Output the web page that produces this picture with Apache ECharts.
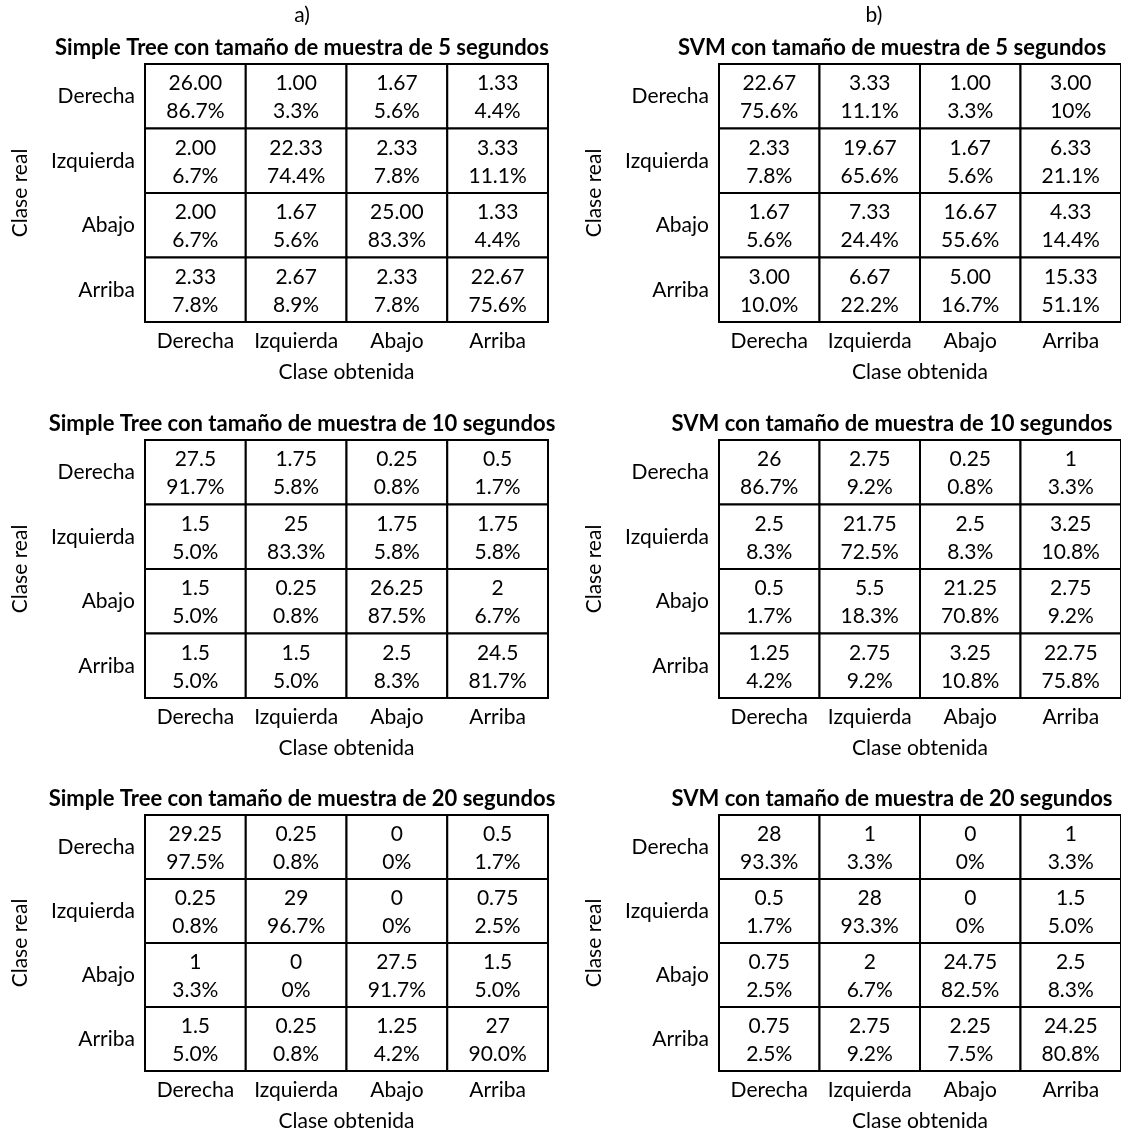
<!DOCTYPE html>
<html>
<head>
<meta charset="utf-8">
<script src="https://cdn.jsdelivr.net/npm/echarts@6/dist/echarts.min.js"></script>
<style>
  html, body { margin: 0; padding: 0; background: #fff; }
  #chart { width: 1121px; height: 1133px; }
</style>
</head>
<body>
<div id="chart"></div>
<script>
// ---------- Data ----------
const classes = ['Derecha', 'Izquierda', 'Abajo', 'Arriba'];
const xAxisName = 'Clase obtenida';
const yAxisName = 'Clase real';
const panelLetters = ['a)', 'b)'];

const titles = [
  'Simple Tree con tamaño de muestra de 5 segundos',
  'SVM con tamaño de muestra de 5 segundos',
  'Simple Tree con tamaño de muestra de 10 segundos',
  'SVM con tamaño de muestra de 10 segundos',
  'Simple Tree con tamaño de muestra de 20 segundos',
  'SVM con tamaño de muestra de 20 segundos'
];

// counts (rows = clase real, cols = clase obtenida)
const tree5Counts = [
  [26.00, 1.00, 1.67, 1.33],
  [2.00, 22.33, 2.33, 3.33],
  [2.00, 1.67, 25.00, 1.33],
  [2.33, 2.67, 2.33, 22.67]
];
const tree5Pct = [
  ['86.7%', '3.3%', '5.6%', '4.4%'],
  ['6.7%', '74.4%', '7.8%', '11.1%'],
  ['6.7%', '5.6%', '83.3%', '4.4%'],
  ['7.8%', '8.9%', '7.8%', '75.6%']
];
const svm5Counts = [
  [22.67, 3.33, 1.00, 3.00],
  [2.33, 19.67, 1.67, 6.33],
  [1.67, 7.33, 16.67, 4.33],
  [3.00, 6.67, 5.00, 15.33]
];
const svm5Pct = [
  ['75.6%', '11.1%', '3.3%', '10%'],
  ['7.8%', '65.6%', '5.6%', '21.1%'],
  ['5.6%', '24.4%', '55.6%', '14.4%'],
  ['10.0%', '22.2%', '16.7%', '51.1%']
];
const tree10Counts = [
  [27.5, 1.75, 0.25, 0.5],
  [1.5, 25, 1.75, 1.75],
  [1.5, 0.25, 26.25, 2],
  [1.5, 1.5, 2.5, 24.5]
];
const tree10Pct = [
  ['91.7%', '5.8%', '0.8%', '1.7%'],
  ['5.0%', '83.3%', '5.8%', '5.8%'],
  ['5.0%', '0.8%', '87.5%', '6.7%'],
  ['5.0%', '5.0%', '8.3%', '81.7%']
];
const svm10Counts = [
  [26, 2.75, 0.25, 1],
  [2.5, 21.75, 2.5, 3.25],
  [0.5, 5.5, 21.25, 2.75],
  [1.25, 2.75, 3.25, 22.75]
];
const svm10Pct = [
  ['86.7%', '9.2%', '0.8%', '3.3%'],
  ['8.3%', '72.5%', '8.3%', '10.8%'],
  ['1.7%', '18.3%', '70.8%', '9.2%'],
  ['4.2%', '9.2%', '10.8%', '75.8%']
];
const tree20Counts = [
  [29.25, 0.25, 0, 0.5],
  [0.25, 29, 0, 0.75],
  [1, 0, 27.5, 1.5],
  [1.5, 0.25, 1.25, 27]
];
const tree20Pct = [
  ['97.5%', '0.8%', '0%', '1.7%'],
  ['0.8%', '96.7%', '0%', '2.5%'],
  ['3.3%', '0%', '91.7%', '5.0%'],
  ['5.0%', '0.8%', '4.2%', '90.0%']
];
const svm20Counts = [
  [28, 1, 0, 1],
  [0.5, 28, 0, 1.5],
  [0.75, 2, 24.75, 2.5],
  [0.75, 2.75, 2.25, 24.25]
];
const svm20Pct = [
  ['93.3%', '3.3%', '0%', '3.3%'],
  ['1.7%', '93.3%', '0%', '5.0%'],
  ['2.5%', '6.7%', '82.5%', '8.3%'],
  ['2.5%', '9.2%', '7.5%', '80.8%']
];
// decimals used to print counts (5 s panels show two decimals)
const countDecimals = [2, 2, null, null, null, null];

// ---------- Build ----------
const panels = [
  [tree5Counts, tree5Pct], [svm5Counts, svm5Pct],
  [tree10Counts, tree10Pct], [svm10Counts, svm10Pct],
  [tree20Counts, tree20Pct], [svm20Counts, svm20Pct]
];

const FONT = 'Lato, "Open Sans", sans-serif';
const FS = 21;
const colLeft = [145, 719];
const tableW = 403;
const rowTop = [64, 440, 815];
const tableH = 258;
const titleCenterX = [297, 887];
const letterCenterX = [297, 869];

const grids = [], xAxes = [], yAxes = [], series = [], titleList = [];

panelLetters.forEach((t, i) => {
  titleList.push({
    text: t, left: letterCenterX[i], top: 0, textAlign: 'center',
    textStyle: { fontFamily: FONT, fontSize: FS, fontWeight: 'normal', color: '#000' }
  });
});

panels.forEach((p, k) => {
  const col = k % 2, row = Math.floor(k / 2);
  const counts = p[0], pcts = p[1];
  grids.push({ left: colLeft[col], top: rowTop[row], width: tableW, height: tableH });
  titleList.push({
    text: titles[k], left: titleCenterX[col], top: rowTop[row] - 32, textAlign: 'center',
    textStyle: { fontFamily: FONT, fontSize: 22, fontWeight: 'bold', color: '#000' }
  });
  xAxes.push({
    type: 'category', gridIndex: k, data: classes, position: 'bottom',
    axisLine: { show: false }, axisTick: { show: false }, splitLine: { show: false },
    axisLabel: { color: '#000', fontFamily: FONT, fontSize: FS, margin: 9, interval: 0 },
    name: xAxisName, nameLocation: 'middle', nameGap: 40,
    nameTextStyle: { color: '#000', fontFamily: FONT, fontSize: FS }
  });
  yAxes.push({
    type: 'category', gridIndex: k, data: classes, inverse: true,
    axisLine: { show: false }, axisTick: { show: false }, splitLine: { show: false },
    axisLabel: { color: '#000', fontFamily: FONT, fontSize: FS, margin: 10, interval: 0 },
    name: yAxisName, nameLocation: 'middle', nameRotate: 90, nameGap: 114,
    nameTextStyle: { color: '#000', fontFamily: FONT, fontSize: FS }
  });
  const data = [], cTxt = [], pTxt = [];
  counts.forEach((r, ri) => r.forEach((v, ci) => {
    data.push([ci, ri]);
    cTxt.push(countDecimals[k] == null ? String(v) : v.toFixed(countDecimals[k]));
    pTxt.push(pcts[ri][ci]);
  }));
  series.push({
    type: 'custom', xAxisIndex: k, yAxisIndex: k, data: data,
    renderItem: function (params, api) {
      const c = api.coord([api.value(0), api.value(1)]);
      const s = api.size([1, 1]);
      const i = params.dataIndex;
      return {
        type: 'group',
        children: [
          { type: 'rect', shape: { x: c[0] - s[0] / 2, y: c[1] - s[1] / 2, width: s[0], height: s[1] },
            style: { fill: '#fff', stroke: '#000', lineWidth: 2 } },
          { type: 'text', x: c[0], y: c[1] - s[1] * 0.2,
            style: { text: cTxt[i], fill: '#000', font: FS + 'px ' + FONT, align: 'center', verticalAlign: 'middle' } },
          { type: 'text', x: c[0], y: c[1] + s[1] * 0.24,
            style: { text: pTxt[i], fill: '#000', font: FS + 'px ' + FONT, align: 'center', verticalAlign: 'middle' } }
        ]
      };
    }
  });
});

const chart = echarts.init(document.getElementById('chart'), null, { renderer: 'canvas' });
chart.setOption({
  backgroundColor: '#fff',
  animation: false,
  title: titleList,
  grid: grids,
  xAxis: xAxes,
  yAxis: yAxes,
  series: series
});
</script>
</body>
</html>
